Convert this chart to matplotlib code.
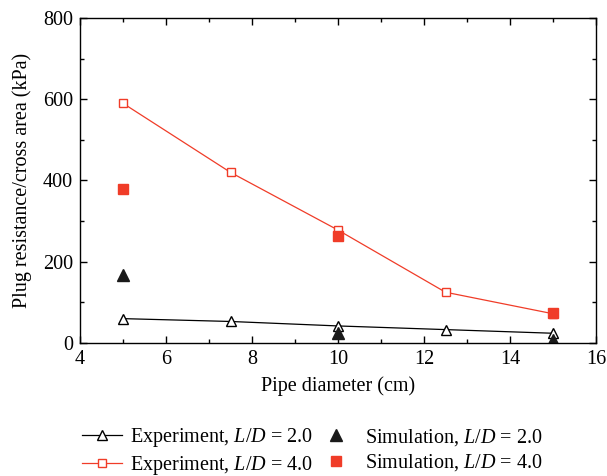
import matplotlib
matplotlib.use("Agg")
import matplotlib.pyplot as plt
from matplotlib.ticker import MultipleLocator

plt.rcParams['font.family'] = ['Liberation Serif', 'DejaVu Serif']
plt.rcParams['mathtext.fontset'] = 'custom'
plt.rcParams['mathtext.rm'] = 'Liberation Serif'
plt.rcParams['mathtext.it'] = 'Liberation Serif:italic'

# Data
exp_x = [5, 7.5, 10, 12.5, 15]
exp_ld2 = [60, 53, 42, 33, 24]
exp_ld4 = [590, 420, 278, 125, 72]
sim_x = [5, 10, 15]
sim_ld2 = [168, 25, 8]
sim_ld4 = [380, 263, 75]

red = '#f03c28'

fig = plt.figure(figsize=(6.07, 4.76), dpi=100)
ax = fig.add_axes([0.1318, 0.2794, 0.8501, 0.6828])

l1, = ax.plot(exp_x, exp_ld2, color='black', lw=0.9, marker='^', ms=7,
              mfc='white', mec='black', mew=1.0, label='Experiment, $L/D$ = 2.0')
l2, = ax.plot(exp_x, exp_ld4, color=red, lw=0.9, marker='s', ms=6,
              mfc='white', mec=red, mew=1.0, label='Experiment, $L/D$ = 4.0')
s1, = ax.plot(sim_x, sim_ld2, ls='none', marker='^', ms=8, color='#1a1a1a',
              label='Simulation, $L/D$ = 2.0')
s2, = ax.plot(sim_x, sim_ld4, ls='none', marker='s', ms=7, color=red,
              label='Simulation, $L/D$ = 4.0')

ax.set_xlim(4, 16)
ax.set_ylim(0, 800)
ax.xaxis.set_major_locator(MultipleLocator(2))
ax.xaxis.set_minor_locator(MultipleLocator(1))
ax.yaxis.set_major_locator(MultipleLocator(200))
ax.yaxis.set_minor_locator(MultipleLocator(100))
ax.tick_params(which='both', direction='in', top=True, right=True, labelsize=14.5)
ax.tick_params(which='major', length=5, width=1, pad=5)
ax.tick_params(which='minor', length=3, width=1)
for s in ax.spines.values():
    s.set_linewidth(1.0)

ax.set_xlabel('Pipe diameter (cm)', fontsize=14.5, labelpad=5)
ax.set_ylabel('Plug resistance/cross area (kPa)', fontsize=14.5, labelpad=8)

fig.legend(handles=[l1, l2, s1, s2], ncol=2, loc='lower left',
           bbox_to_anchor=(0.105, -0.04), frameon=False, fontsize=14.5,
           handlelength=2.0, columnspacing=0.15, labelspacing=0.22,
           handletextpad=0.4)

fig.savefig('out.png', dpi=100)
